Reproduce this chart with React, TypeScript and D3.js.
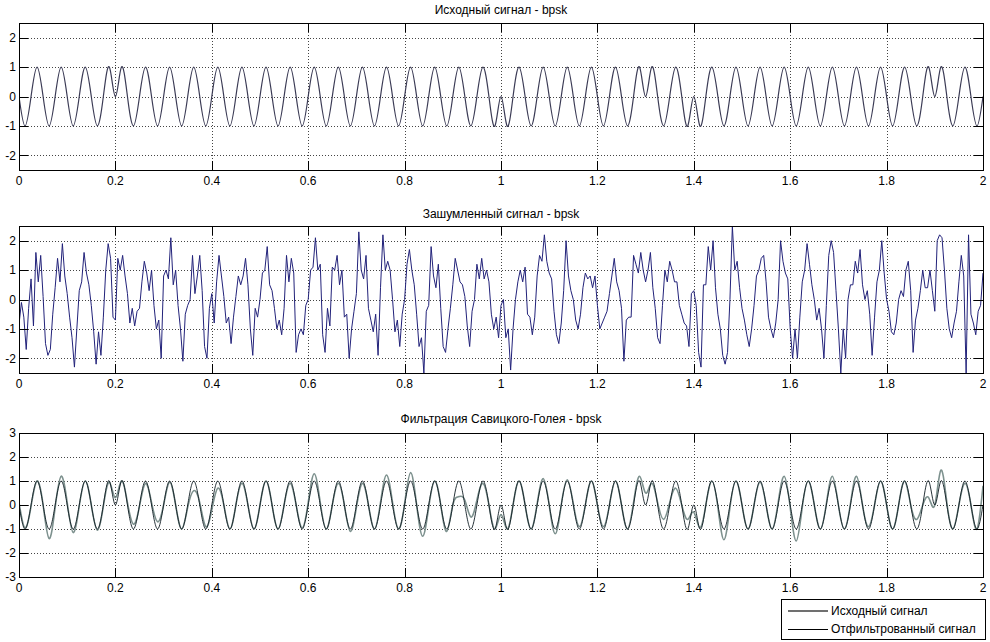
import React from "react";
import * as d3 from "d3";

// sampling steps of the stored series (seconds)
const CLEAN_STEP = 0.0125; // quarter of the 20 Hz carrier period
const NOISY_STEP = 0.005;

const xTicks = [0, 0.2, 0.4, 0.6, 0.8, 1, 1.2, 1.4, 1.6, 1.8, 2];
const yTicksSmall = [-2, -1, 0, 1, 2];
const yTicksBig = [-3, -2, -1, 0, 1, 2, 3];

const titles = [
  "Исходный сигнал - bpsk",
  "Зашумленный сигнал - bpsk",
  "Фильтрация Савицкого-Голея - bpsk",
];
const legendLabels = ["Исходный сигнал", "Отфильтрованный сигнал"];

// bpsk signal, read at quarter periods (phase flips at 0.2, 1.0, 1.3, 1.4, 1.9)
const originalSignal = [
  0, -1, 0, 1, 0, -1, 0, 1, 0, -1, 0, 1, 0, -1, 0, 1,
  0, 1, 0, -1, 0, 1, 0, -1, 0, 1, 0, -1, 0, 1, 0, -1,
  0, 1, 0, -1, 0, 1, 0, -1, 0, 1, 0, -1, 0, 1, 0, -1,
  0, 1, 0, -1, 0, 1, 0, -1, 0, 1, 0, -1, 0, 1, 0, -1,
  0, 1, 0, -1, 0, 1, 0, -1, 0, 1, 0, -1, 0, 1, 0, -1,
  0, -1, 0, 1, 0, -1, 0, 1, 0, -1, 0, 1, 0, -1, 0, 1,
  0, -1, 0, 1, 0, -1, 0, 1, 0, 1, 0, -1, 0, 1, 0, -1,
  0, -1, 0, 1, 0, -1, 0, 1, 0, -1, 0, 1, 0, -1, 0, 1,
  0, -1, 0, 1, 0, -1, 0, 1, 0, -1, 0, 1, 0, -1, 0, 1,
  0, -1, 0, 1, 0, -1, 0, 1, 0, 1, 0, -1, 0, 1, 0, -1,
  0,
];

// noisy signal, every 5 ms
const noisySignal = [
  -0.85, -0.1, -0.6, -1.7, -0.3, 0.7, -0.9, 1.6, 0.6, 1.5,
  0.1, -1.5, -1.9, -1.7, -0.5, 0.4, 1.4, 0.6, 1.9, 0.8,
  0.2, -0.6, -1.3, -2.3, -1.0, 0.3, 0.6, 1.6, 0.9, 0.5,
  -0.2, -1.1, -2.2, -1.1, -1.9, -0.6, 1.0, 1.9, 1.4, -0.6,
  -0.7, 1.4, 1.0, 1.5, 0.8, 0.2, -0.8, -0.3, -0.9, -0.4,
  -0.3, 0.6, 1.3, 0.9, 0.3, 1.0, -0.2, -1.0, -0.7, -2.0,
  0.8, 1.0, 0.7, 2.1, 0.5, 1.0, -0.2, -1.0, -2.1, -0.5,
  -0.2, 0.0, 1.5, 0.2, 0.8, 1.5, 0.3, -1.6, -2.0, -0.3,
  0.2, -0.8, 0.6, 1.5, 0.8, 0.1, -0.8, -0.6, -1.5, -0.6,
  0.1, 0.8, 0.5, 0.8, 1.4, 0.5, -1.0, -1.9, -0.3, -0.6,
  0.0, 0.9, 1.0, 1.8, 0.5, 0.3, -0.3, -1.0, -0.7, -1.2,
  -0.3, 1.5, 0.6, 1.4, 0.9, -1.8, -1.2, -1.0, -1.2, -0.2,
  0.0, 1.0, 1.1, 2.1, 1.0, 1.2, -1.2, -1.8, -0.3, -0.9,
  1.1, 1.0, 1.5, 0.5, 1.0, -0.6, -0.5, -2.0, -1.0, -0.4,
  0.2, 2.3, 1.0, 0.7, 1.5, -0.3, -0.7, -1.1, -0.5, -1.9,
  0.4, 2.2, 1.0, 1.3, 1.0, 0.0, -1.1, -0.7, -1.6, -0.5,
  0.0, 1.2, 1.7, 1.0, 0.5, -0.5, -1.6, -1.3, -2.5, -0.4,
  -0.2, 1.8, 0.8, 0.4, 1.2, -0.3, -1.6, -1.8, -1.0, -0.3,
  0.5, 1.4, 1.0, 0.6, 0.5, 0.1, -0.9, -1.6, -0.4, 0.0,
  1.2, 0.7, 1.4, 0.7, 1.0, 0.6, -0.5, -1.0, -0.6, -1.3,
  -0.2, 0.0, -1.3, -1.0, -2.4, -1.0, 0.0, 0.6, 1.0, 0.6,
  1.1, -0.5, -0.6, -1.2, -0.6, 0.8, 1.5, 1.3, 2.2, 1.3,
  0.9, 0.7, -0.4, -1.2, -1.5, -0.8, 0.3, 2.0, 0.8, 0.3,
  0.0, -0.7, -1.0, -0.5, 0.4, 0.9, 0.7, 0.8, 0.4, 0.8,
  -0.2, -1.0, -0.8, -0.6, -0.4, 0.2, 0.8, 1.4, 0.6, 0.3,
  -0.3, -2.1, -0.7, -0.6, -0.6, 1.5, 1.2, 0.9, 1.6, 1.0,
  0.6, 1.0, 1.6, 0.4, -0.3, -1.3, -1.5, -0.2, 1.0, 0.6,
  1.3, 1.0, 0.6, 0.6, -0.2, -0.5, -0.8, -0.9, -1.6, 0.2,
  0.3, -0.2, -1.8, -2.3, 0.5, 0.5, 1.8, 1.0, 2.0, 0.4,
  -0.5, -1.0, -1.9, -2.2, -1.8, 0.0, 2.5, 1.0, 1.3, 0.4,
  -0.3, -0.7, -1.2, -1.6, -1.0, -0.2, 0.8, 1.0, 1.4, 1.5,
  0.6, -0.6, -1.0, -1.3, -0.8, 0.0, 2.0, 1.3, 0.9, 0.7,
  -1.0, -2.0, -1.0, -2.0, -0.6, 0.6, 1.0, 1.9, 1.2, 0.5,
  0.0, -0.7, -0.3, -1.0, -2.0, -0.2, 1.5, 2.0, 1.6, 0.3,
  -1.0, -2.5, -1.0, -2.0, 0.0, 0.5, 0.5, 1.3, 0.9, 1.7,
  0.5, 0.0, 0.3, -0.5, -1.9, -0.6, 0.6, 1.0, 2.0, 0.9,
  0.0, -0.4, -1.1, -1.2, -0.8, 0.0, 0.3, 0.1, 1.0, 1.3,
  0.3, -1.8, -0.7, -0.3, 0.3, 1.0, 0.4, 0.4, 1.0, 0.3,
  -0.4, 2.0, 2.2, 2.1, 1.0, -0.3, -1.0, -1.3, -0.8, -0.4,
  0.6, 1.5, 0.8, -2.5, 2.2, -0.5, -0.8, -1.2, -0.4, -0.2,
  0.9,
];

// Savitzky-Golay output, read at quarter periods
const filteredSignal = [
  0.1, -0.95, -0.05, 1.0, 0, -1.4, -0.1, 1.2, 0.1, -1.15, -0.05, 1.0, 0, -1.05, -0.05, 0.95,
  0.3, 1.0, 0.1, -0.8, -0.05, 0.9, 0.1, -0.7, 0, 0.95, 0, -1.0, -0.1, 0.6, 0.1, -0.9,
  -0.2, 0.7, 0, -1.0, 0, 0.9, 0, -1.0, 0, 1.0, 0, -1.0, 0, 0.9, 0, -0.95,
  0.1, 1.3, 0.1, -1.0, 0, 0.9, 0, -1.1, -0.1, 0.9, 0, -1.0, 0.1, 1.25, 0.1, -1.0,
  0.05, 1.35, 0, -1.3, -0.1, 1.0, 0, -1.1, 0, 0.35, 0.2, -0.5, 0.2, 0.9, 0, -1.0,
  -0.4, -1.0, 0, 1.0, 0, -1.0, 0.05, 1.1, 0, -1.2, 0, 1.05, 0.05, -0.9, 0, 1.0,
  0, -0.9, 0, 1.0, 0, -1.0, 0.1, 1.2, 0.5, 0.9, 0.1, -0.6, 0.1, 0.7, 0, -0.6,
  -0.3, -0.95, 0, 1.0, -0.1, -1.45, -0.1, 1.0, 0, -1.0, 0, 0.95, 0, -1.0, 0.1, 1.2,
  -0.1, -1.5, -0.1, 1.0, 0, -1.0, 0.05, 1.2, 0, -1.0, 0.05, 1.2, 0, -0.9, 0, 1.0,
  0, -1.0, 0, 1.0, 0, -0.6, 0, 0.3, 0, 1.45, 0.1, -1.0, 0, 0.9, 0, -1.0,
  0.8,
];

const W = 990;
const H = 642;
const LEFT = 19;
const RIGHT = 983;
const TICK = 9;
const FONT = "'Liberation Sans', Arial, sans-serif";

const panels = [
  { top: 23, bottom: 170, domain: [-2.5, 2.5], yTicks: yTicksSmall, title: titles[0], titleY: 13.5 },
  { top: 226, bottom: 373, domain: [-2.5, 2.5], yTicks: yTicksSmall, title: titles[1], titleY: 217.5 },
  { top: 433, bottom: 577, domain: [-3, 3], yTicks: yTicksBig, title: titles[2], titleY: 422.5 },
];

const series = [
  [{ data: originalSignal, step: CLEAN_STEP, color: "#3b3b55", width: 1.2 }],
  [{ data: noisySignal, step: NOISY_STEP, color: "#22227a", width: 1 }],
  [
    { data: filteredSignal, step: CLEAN_STEP, color: "#7d918e", width: 1.6 },
    { data: originalSignal, step: CLEAN_STEP, color: "#0f1c22", width: 0.9 },
  ],
];

const px = (v: number) => Math.round(v) + 0.5;

const x = d3.scaleLinear().domain([0, 2]).range([LEFT, RIGHT]);

function Panel({ p, idx }: { p: (typeof panels)[number]; idx: number }) {
  const y = d3.scaleLinear().domain(p.domain).range([p.bottom, p.top]);
  const clipId = `clip-${idx}`;
  return (
    <g>
      <defs>
        <clipPath id={clipId}>
          <rect x={LEFT} y={p.top} width={RIGHT - LEFT} height={p.bottom - p.top} />
        </clipPath>
      </defs>
      {/* dotted grid */}
      <g stroke="#444" strokeWidth={1} strokeDasharray="1 2">
        {xTicks.slice(1, -1).map((t) => (
          <line key={`gx${t}`} x1={px(x(t))} x2={px(x(t))} y1={p.top} y2={p.bottom} />
        ))}
        {p.yTicks
          .filter((v) => v > p.domain[0] && v < p.domain[1])
          .map((v) => (
            <line key={`gy${v}`} x1={LEFT} x2={RIGHT} y1={px(y(v))} y2={px(y(v))} />
          ))}
      </g>
      {/* signals */}
      <g clipPath={`url(#${clipId})`}>
        {series[idx].map((s, si) => {
          const line = d3
            .line<number>()
            .x((_, i) => x(i * s.step))
            .y((d) => y(d))
            .curve(s.step === CLEAN_STEP ? d3.curveNatural : d3.curveLinear);
          return (
            <path
              key={si}
              d={line(s.data) || ""}
              fill="none"
              stroke={s.color}
              strokeWidth={s.width}
              strokeLinejoin="round"
            />
          );
        })}
      </g>
      {/* box and ticks */}
      <g stroke="#000" strokeWidth={1}>
        <rect
          x={px(LEFT)}
          y={px(p.top)}
          width={Math.round(RIGHT) - Math.round(LEFT)}
          height={Math.round(p.bottom) - Math.round(p.top)}
          fill="none"
        />
        {xTicks.map((t) => (
          <g key={`tx${t}`}>
            <line x1={px(x(t))} x2={px(x(t))} y1={p.bottom} y2={p.bottom - TICK} />
            <line x1={px(x(t))} x2={px(x(t))} y1={p.top} y2={p.top + TICK} />
          </g>
        ))}
        {p.yTicks.map((v) => (
          <g key={`ty${v}`}>
            <line x1={LEFT} x2={LEFT + TICK} y1={px(y(v))} y2={px(y(v))} />
            <line x1={RIGHT} x2={RIGHT - TICK} y1={px(y(v))} y2={px(y(v))} />
          </g>
        ))}
      </g>
      <g fontFamily={FONT} fontSize={12} fill="#000">
        {xTicks.map((t) => (
          <text key={`lx${t}`} x={x(t)} y={p.bottom + 15} textAnchor="middle">
            {String(t)}
          </text>
        ))}
        {p.yTicks.map((v) => (
          <text key={`ly${v}`} x={16} y={y(v) + 4.3} textAnchor="end">
            {String(v)}
          </text>
        ))}
        <text x={(LEFT + RIGHT) / 2} y={p.titleY} textAnchor="middle">
          {p.title}
        </text>
      </g>
    </g>
  );
}

export default function App() {
  const legend = { x: 781, y: 599, w: 204, h: 40 };
  const legendColors = ["#707070", "#000"];
  const legendWidths = [2, 1];
  return (
    <svg
      width={W}
      height={H}
      style={{ position: "absolute", left: 0, top: 0, background: "#fff" }}
    >
      <rect width={W} height={H} fill="#fff" />
      {panels.map((p, i) => (
        <Panel key={i} p={p} idx={i} />
      ))}
      <g>
        <rect
          x={px(legend.x)}
          y={px(legend.y)}
          width={legend.w}
          height={legend.h}
          fill="#fff"
          stroke="#000"
        />
        {legendLabels.map((label, i) => {
          const ly = legend.y + 12 + i * 18;
          return (
            <g key={label}>
              <line
                x1={legend.x + 7}
                x2={legend.x + 47}
                y1={i === 0 ? ly : ly + 0.5}
                y2={i === 0 ? ly : ly + 0.5}
                stroke={legendColors[i]}
                strokeWidth={legendWidths[i]}
              />
              <text x={legend.x + 50} y={ly + 4.3} fontFamily={FONT} fontSize={12}>
                {label}
              </text>
            </g>
          );
        })}
      </g>
    </svg>
  );
}
